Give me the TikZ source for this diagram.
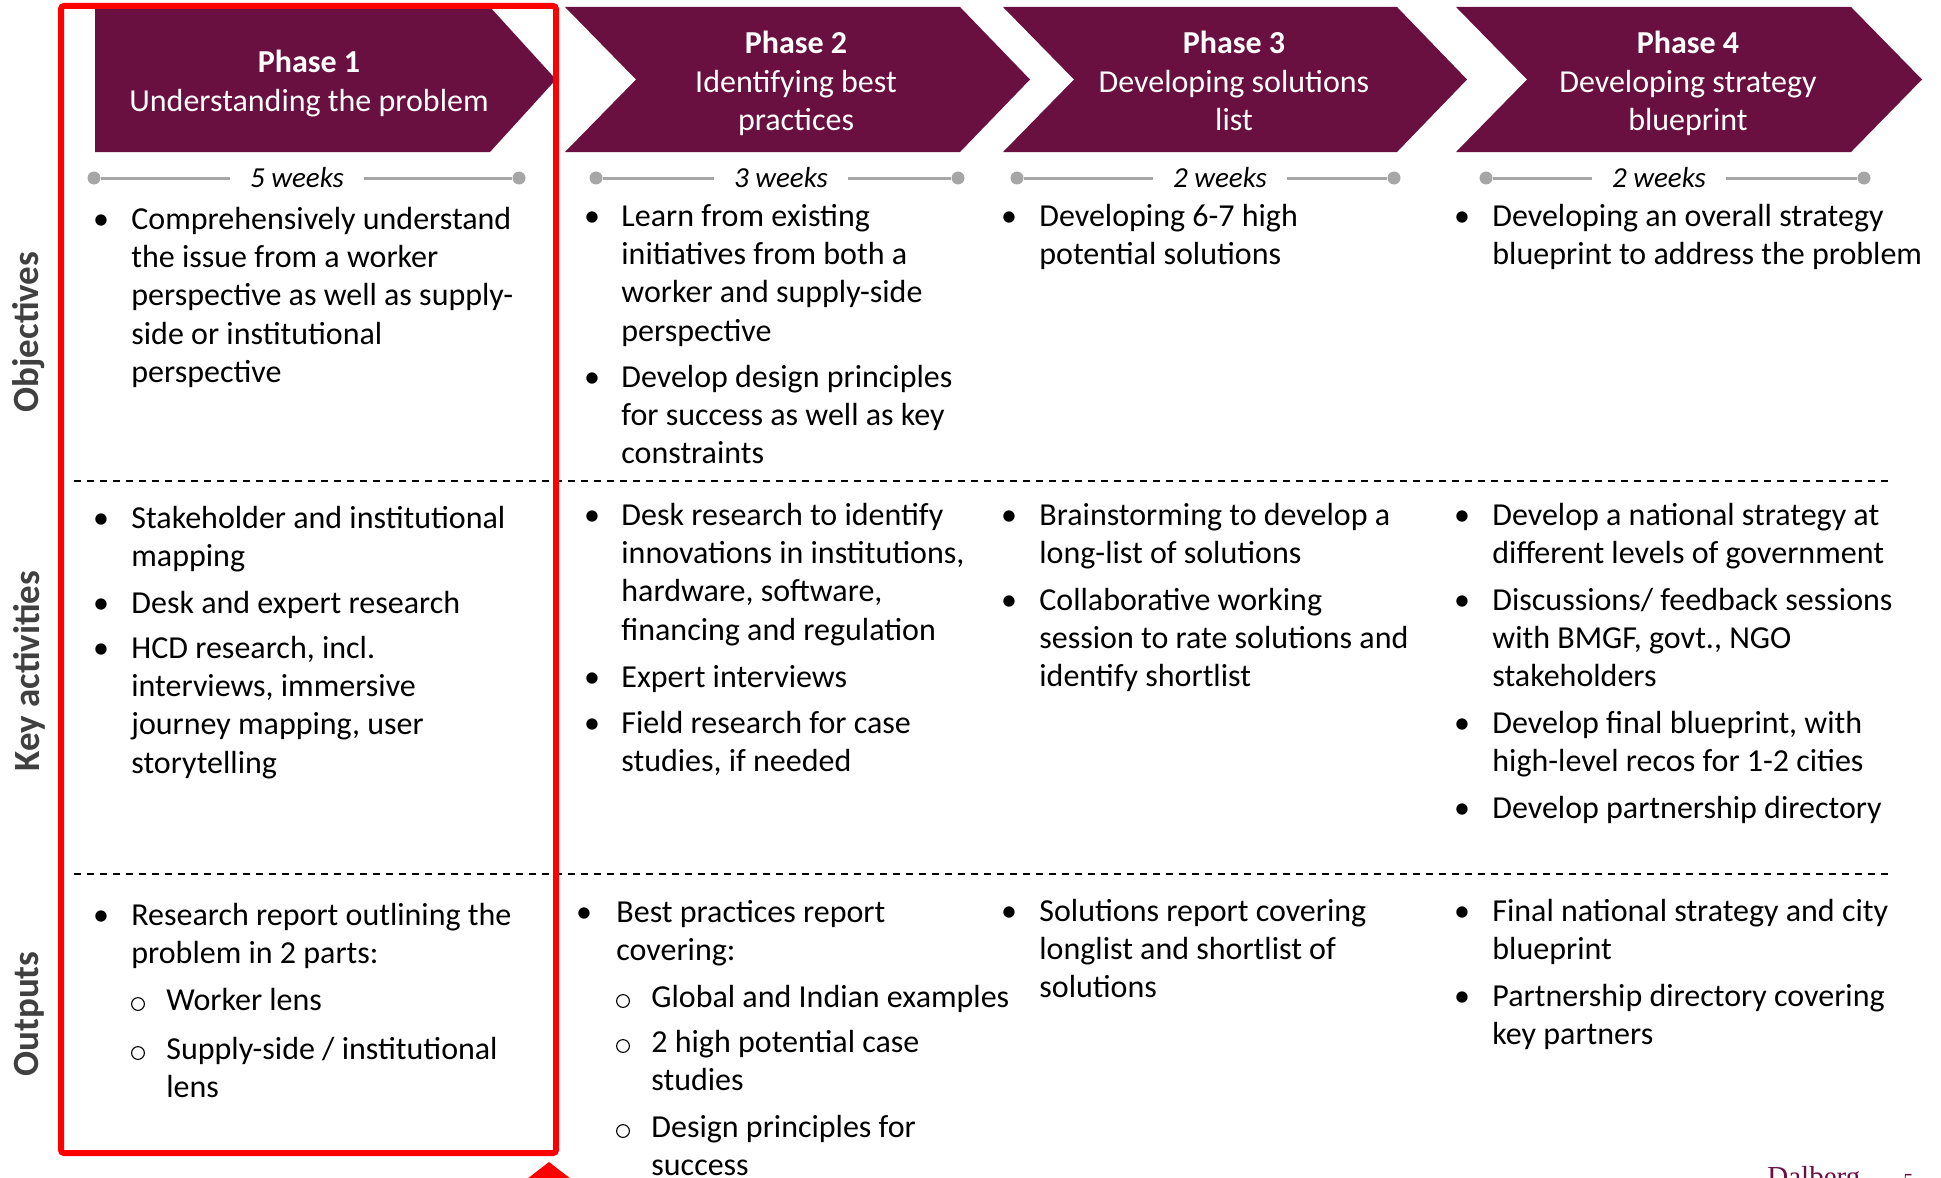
\documentclass[tikz,border=0pt]{standalone}
\usepackage{fontspec}
\setmainfont{Carlito}
\newfontfamily\serf{Liberation Serif}
\definecolor{dmaroon}{HTML}{6A1040}
\definecolor{tlgrey}{HTML}{A6A6A6}
\definecolor{labgrey}{HTML}{404040}
\definecolor{bred}{HTML}{FF0000}
\newcommand\mlines[2]{\begin{tabular}[t]{@{}#1@{}}#2\end{tabular}}
\newcommand\itm[5]{\node[bul] (#1b) at (#2,#4+2) {\textbullet};
  \node[txt] (#1) at (#3,#4+2) {\mlines{l}{#5}};}
\newcommand\sitm[5]{\node[subb] (#1b) at (#2,#4-4) {};
  \node[txt] (#1) at (#3,#4+2) {\mlines{l}{#5}};}
\begin{document}
\begin{tikzpicture}[x=0.5pt,y=-0.5pt,
  txtbody/.style={font=\fontsize{16}{19.2}\selectfont, inner sep=0},
  txt/.style={txtbody, anchor=base west},
  bul/.style={txtbody, anchor=base},
  subb/.style={circle, draw=black, line width=0.55pt, inner sep=0, minimum size=6.4pt},
  hdr/.style={inner sep=0, anchor=base, text=white, font=\fontsize{16}{19.2}\selectfont},
  tldot/.style={circle, fill=tlgrey, inner sep=0, minimum size=6.5pt},
  wk/.style={inner xsep=10pt, inner ysep=0, font=\itshape\fontsize{14.5}{17}\selectfont},
  tl/.style={draw=tlgrey, line width=1.5pt},
  rowlab/.style={rotate=90, inner sep=0, text=labgrey, font=\bfseries\fontsize{18.5}{22}\selectfont},
  sepline/.style={draw=black, dash pattern=on 3.5pt off 3pt, line width=0.75pt},
  chev/.style={fill=dmaroon}
]
\useasboundingbox (0,0) rectangle (1941,1177);
\clip (0,0) rectangle (1941,1177);

% chevrons
\fill[chev] (95,7) -- (490,7) -- (556,79.5) -- (490,152) -- (95,152) -- cycle;
\fill[chev] (565,7) -- (960,7) -- (1030,79.5) -- (960,152) -- (565,152) -- (636,79.5) -- cycle;
\fill[chev] (1003,7) -- (1397,7) -- (1467,79.5) -- (1397,152) -- (1003,152) -- (1074,79.5) -- cycle;
\fill[chev] (1456,7) -- (1851,7) -- (1922,79.5) -- (1851,152) -- (1456,152) -- (1527,79.5) -- cycle;

\node[hdr] (ph1) at (309,73) {\mlines{c}{\textbf{Phase 1}\\Understanding the problem}};
\node[hdr] (ph2) at (796,54) {\mlines{c}{\textbf{Phase 2}\\Identifying best\\practices}};
\node[hdr] (ph3) at (1234,54) {\mlines{c}{\textbf{Phase 3}\\Developing solutions\\list}};
\node[hdr] (ph4) at (1688,54) {\mlines{c}{\textbf{Phase 4}\\Developing strategy\\blueprint}};

% timelines
\node[tldot] (t1a) at (94,178) {};
\node[tldot] (t1b) at (519,178) {};
\node[wk] (w1) at (297,178) {5 weeks};
\draw[tl] (t1a) -- (w1); \draw[tl] (w1) -- (t1b);
\node[tldot] (t2a) at (596,178) {};
\node[tldot] (t2b) at (958,178) {};
\node[wk] (w2) at (781,178) {3 weeks};
\draw[tl] (t2a) -- (w2); \draw[tl] (w2) -- (t2b);
\node[tldot] (t3a) at (1017,178) {};
\node[tldot] (t3b) at (1394,178) {};
\node[wk] (w3) at (1220,178) {2 weeks};
\draw[tl] (t3a) -- (w3); \draw[tl] (w3) -- (t3b);
\node[tldot] (t4a) at (1486,178) {};
\node[tldot] (t4b) at (1864,178) {};
\node[wk] (w4) at (1659,178) {2 weeks};
\draw[tl] (t4a) -- (w4); \draw[tl] (w4) -- (t4b);

% row labels
\node[rowlab] (rObj) at (29,332) {Objectives};
\node[rowlab] (rKey) at (29,671) {Key activities};
\node[rowlab] (rOut) at (29,1014) {Outputs};

% separators
\draw[sepline] (74,481) -- (1892,481);
\draw[sepline] (74,874) -- (1892,874);

% Objectives
\itm{o1a}{101}{131}{227}{Comprehensively understand\\the issue from a worker\\perspective as well as supply-\\side or institutional\\perspective}
\itm{o2a}{592}{621}{224}{Learn from existing\\initiatives from both a\\worker and supply-side\\perspective}
\itm{o2b}{592}{621}{385}{Develop design principles\\for success as well as key\\constraints}
\itm{o3a}{1009}{1039}{224}{Developing 6-7 high\\potential solutions}
\itm{o4a}{1462}{1492}{224}{Developing an overall strategy\\blueprint to address the problem}

% Key activities
\itm{k1a}{101}{131}{526}{Stakeholder and institutional\\mapping}
\itm{k1b}{101}{131}{611}{Desk and expert research}
\itm{k1c}{101}{131}{656}{HCD research, incl.\\interviews, immersive\\journey mapping, user\\storytelling}
\itm{k2a}{592}{621}{523}{Desk research to identify\\innovations in institutions,\\hardware, software,\\financing and regulation}
\itm{k2b}{592}{621}{685}{Expert interviews}
\itm{k2c}{592}{621}{731}{Field research for case\\studies, if needed}
\itm{k3a}{1009}{1039}{523}{Brainstorming to develop a\\long-list of solutions}
\itm{k3b}{1009}{1039}{608}{Collaborative working\\session to rate solutions and\\identify shortlist}
\itm{k4a}{1462}{1492}{523}{Develop a national strategy at\\different levels of government}
\itm{k4b}{1462}{1492}{608}{Discussions/ feedback sessions\\with BMGF, govt., NGO\\stakeholders}
\itm{k4c}{1462}{1492}{731}{Develop final blueprint, with\\high-level recos for 1-2 cities}
\itm{k4d}{1462}{1492}{816}{Develop partnership directory}

% Outputs
\itm{u1a}{101}{131}{923}{Research report outlining the\\problem in 2 parts:}
\sitm{u1s1}{138}{166}{1008}{Worker lens}
\sitm{u1s2}{138}{166}{1057}{Supply-side / institutional\\lens}
\itm{u2a}{584}{616}{920}{Best practices report\\covering:}
\sitm{u2s1}{623}{651}{1005}{Global and Indian examples}
\sitm{u2s2}{623}{651}{1050}{2 high potential case\\studies}
\sitm{u2s3}{623}{651}{1135}{Design principles for\\success}
\itm{u3a}{1009}{1039}{919}{Solutions report covering\\longlist and shortlist of\\solutions}
\itm{u4a}{1462}{1492}{919}{Final national strategy and city\\blueprint}
\itm{u4b}{1462}{1492}{1004}{Partnership directory covering\\key partners}

% red highlight
\draw[bred, line width=3pt, rounded corners=1.5pt] (61,6) rectangle (556,1153);
\fill[bred] (527,1179) -- (549,1162) -- (571,1179) -- cycle;

% footer
\node[anchor=base west, inner sep=0, text=dmaroon, font=\serf\fontsize{14.5}{17}\selectfont] (dal) at (1767,1186) {Dalberg};
\node[anchor=base west, inner sep=0, text=dmaroon, font=\serf\fontsize{10}{12}\selectfont] (pg) at (1903,1187) {5};
\end{tikzpicture}
\end{document}
